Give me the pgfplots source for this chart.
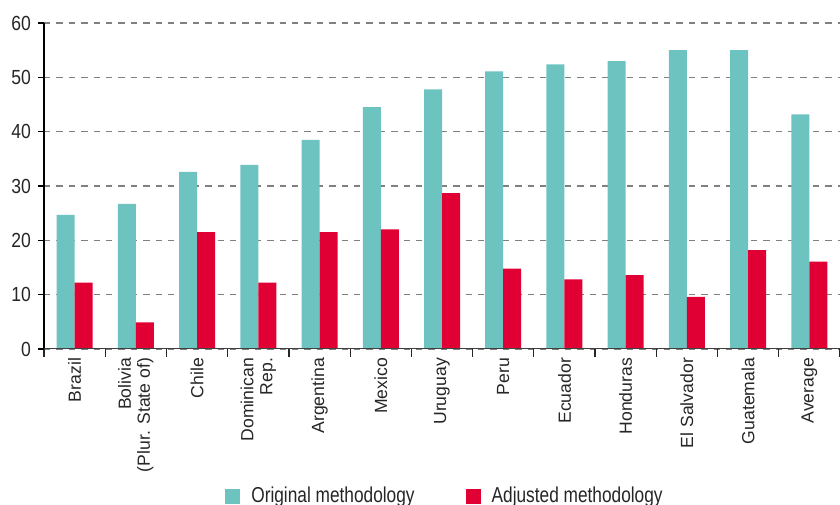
\documentclass[border=0pt]{standalone}
\usepackage{pgfplots}
\pgfplotsset{compat=1.18}
\usepackage{fontspec}
\setmainfont{Liberation Sans}
\newfontfamily\condfont[FakeStretch=0.86]{Liberation Sans}
\newfontfamily\legfont[FakeStretch=0.80]{Liberation Sans}
\definecolor{teal1}{RGB}{108,195,192}
\definecolor{red1}{RGB}{224,0,52}
\begin{document}
\begin{tikzpicture}
\begin{axis}[
  scale only axis, width=398pt, height=163pt,
  xmin=-0.5, xmax=12.5, ymin=0, ymax=60,
  ybar=0pt, bar width=9pt,
  axis x line*=bottom, axis y line*=left,
  x axis line style={draw=none},
  y axis line style={black, line width=0.6pt},
  tick align=outside,
  major tick length=3pt,
  ytick={0,10,...,60},
  ymajorgrids,
  grid style={black!50, line width=0.65pt, dash pattern=on 3.2pt off 3pt},
  xtick={0,...,12},
  every major x tick/.append style={draw=none},
  minor xtick={-0.5,0.5,...,12.5},
  minor tick length=4pt,
  every minor x tick/.append style={black!85, line width=0.6pt},
  ytick style={black, line width=0.6pt},
  /pgf/number format/assume math mode=true,
  yticklabel style={font=\condfont\fontsize{10.2}{12}\selectfont, text=black!85},
  xticklabels={Brazil, {Bolivia\\(Plur. State of)}, Chile, {Dominican\\Rep.}, Argentina, Mexico, Uruguay, Peru, Ecuador, Honduras, El Salvador, Guatemala, Average},
  xticklabel shift=-2pt,
  xticklabel style={rotate=90, anchor=east, align=right, font=\fontsize{8.8}{9.5}\selectfont, text=black!85},
  legend columns=2,
  legend style={draw=none, at={(0.505,-0.452)}, anchor=center,
    font=\legfont\fontsize{10.8}{12}\selectfont, text=black!85,
    /tikz/every odd column/.append style={column sep=3.5pt},
    /tikz/every even column/.append style={column sep=23.5pt}},
]
\addplot[fill=teal1, draw=none,
  legend image code/.code={\fill[teal1] (0pt,-3.75pt) rectangle (7.5pt,3.75pt);}]
  coordinates {(0,24.7) (1,26.7) (2,32.6) (3,33.9) (4,38.5) (5,44.5) (6,47.8) (7,51.1) (8,52.4) (9,53.0) (10,55.0) (11,55.0) (12,43.2)};
\addplot[fill=red1, draw=none,
  legend image code/.code={\fill[red1] (0pt,-3.75pt) rectangle (7.5pt,3.75pt);}]
  coordinates {(0,12.2) (1,4.9) (2,21.5) (3,12.2) (4,21.5) (5,22.0) (6,28.7) (7,14.8) (8,12.8) (9,13.6) (10,9.6) (11,18.2) (12,16.1)};
\legend{Original methodology, Adjusted methodology}
\draw[line width=1pt, black!75] (axis cs:-0.5,0) -- (axis cs:12.5,0);
\end{axis}
\pgfresetboundingbox
\path ([xshift=-22pt,yshift=-78pt]current axis.south west) rectangle ([yshift=11.5pt]current axis.north east);
\end{tikzpicture}
\end{document}
